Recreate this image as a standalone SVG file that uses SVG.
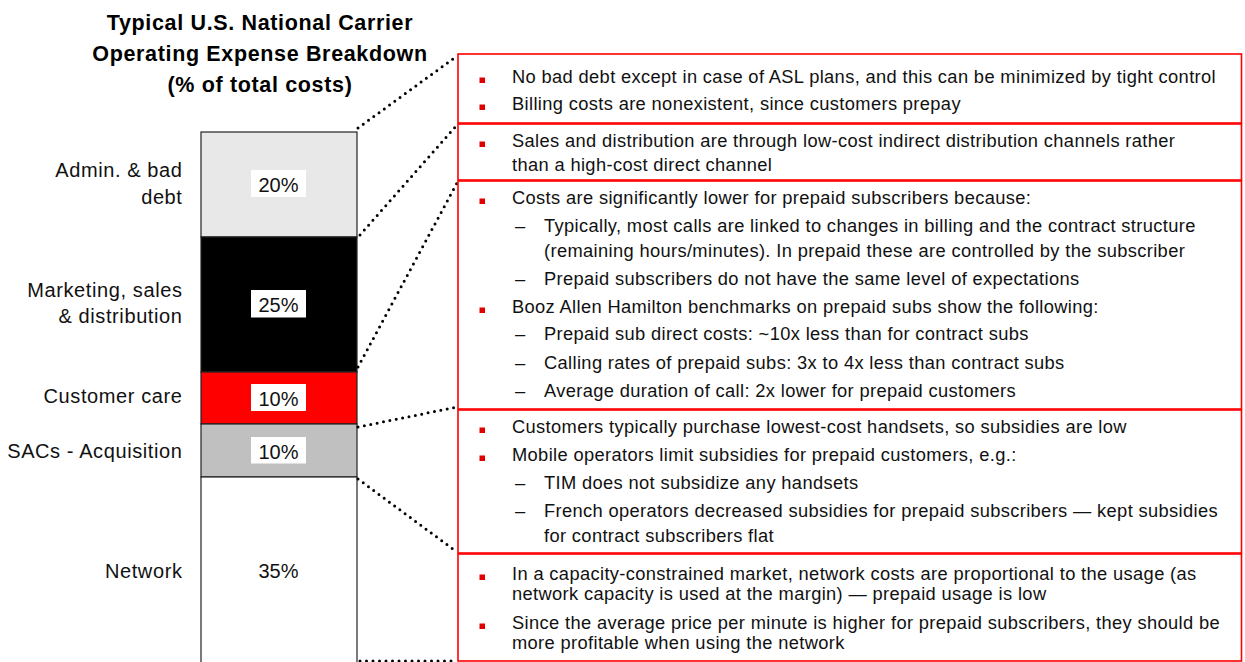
<svg xmlns="http://www.w3.org/2000/svg" width="1245" height="662" viewBox="0 0 1245 662">
  <style>
    .title { font-family: "Liberation Sans", Arial, sans-serif; font-weight: bold; font-size: 21.5px; letter-spacing: 0.65px; fill: #000; text-anchor: middle; }
    .cat { font-family: "Liberation Sans", Arial, sans-serif; font-size: 20px; letter-spacing: 0.6px; fill: #111; text-anchor: end; }
    .pct { font-family: "Liberation Sans", Arial, sans-serif; font-size: 20px; fill: #111; text-anchor: middle; }
    .body { font-family: "Liberation Sans", Arial, sans-serif; font-size: 18.3px; letter-spacing: 0.36px; fill: #111; }
    .seg { stroke: #222; stroke-width: 1.2; }
    .tag { fill: #fff; }
    .panel { fill: #fff; stroke: #ff0000; stroke-width: 1.6; }
    .bul { fill: #e00000; }
    .dots { fill: none; stroke: #000; stroke-width: 3; stroke-linecap: round; stroke-dasharray: 0 6.5; }
  </style>

  <!-- chart title -->
  <g id="title">
    <text class="title" x="260" y="30">Typical U.S. National Carrier</text>
    <text class="title" x="260" y="61">Operating Expense Breakdown</text>
    <text class="title" x="260" y="92">(% of total costs)</text>
  </g>

  <!-- stacked bar segments -->
  <g id="seg-admin">
    <rect class="seg" x="201" y="132" width="156" height="105" fill="#e8e8e8"/>
    <rect class="tag" x="251" y="170" width="55" height="27"/>
    <text class="pct" x="278.5" y="192">20%</text>
    <text class="cat" x="182.5" y="177">Admin. &amp; bad</text>
    <text class="cat" x="182.5" y="204">debt</text>
  </g>
  <g id="seg-marketing">
    <rect class="seg" x="201" y="237" width="156" height="135" fill="#000"/>
    <rect class="tag" x="251" y="290" width="55" height="27.5"/>
    <text class="pct" x="278.5" y="312">25%</text>
    <text class="cat" x="182.5" y="297">Marketing, sales</text>
    <text class="cat" x="182.5" y="323">&amp; distribution</text>
  </g>
  <g id="seg-care">
    <rect class="seg" x="201" y="372" width="156" height="52" fill="#ff0000"/>
    <rect class="tag" x="251" y="384" width="55" height="27"/>
    <text class="pct" x="278.5" y="405.5">10%</text>
    <text class="cat" x="182.5" y="403">Customer care</text>
  </g>
  <g id="seg-sacs">
    <rect class="seg" x="201" y="424" width="156" height="53" fill="#c0c0c0"/>
    <rect class="tag" x="251" y="437" width="55" height="26.5"/>
    <text class="pct" x="278.5" y="458.5">10%</text>
    <text class="cat" x="182.5" y="458">SACs - Acquisition</text>
  </g>
  <g id="seg-network">
    <rect class="seg" x="201" y="477" width="156" height="186" fill="#fff"/>
    <text class="pct" x="278.5" y="578">35%</text>
    <text class="cat" x="182.5" y="578">Network</text>
  </g>

  <!-- dotted leaders from the bar to the comment panels -->
  <g id="connectors">
    <line class="dots" x1="358" y1="128" x2="457" y2="56"/>
    <line class="dots" x1="360" y1="235" x2="457" y2="125"/>
    <line class="dots" x1="358" y1="367" x2="457" y2="183"/>
    <line class="dots" x1="358" y1="427" x2="457" y2="407"/>
    <line class="dots" x1="358" y1="479" x2="457" y2="552"/>
    <line class="dots" x1="360" y1="661" x2="457" y2="661"/>
  </g>

  <!-- comment panels -->
  <g id="panel-admin">
    <rect class="panel" x="458" y="54" width="783.5" height="69"/>
    <rect class="bul" x="479.5" y="77.5" width="5.5" height="5.5"/>
    <text class="body" x="512" y="83">No bad debt except in case of ASL plans, and this can be minimized by tight control</text>
    <rect class="bul" x="479.5" y="104.5" width="5.5" height="5.5"/>
    <text class="body" x="512" y="110">Billing costs are nonexistent, since customers prepay</text>
  </g>
  <g id="panel-marketing">
    <rect class="panel" x="458" y="124" width="783.5" height="56"/>
    <rect class="bul" x="479.5" y="141.5" width="5.5" height="5.5"/>
    <text class="body" x="512" y="147">Sales and distribution are through low-cost indirect distribution channels rather</text>
    <text class="body" x="512" y="171">than a high-cost direct channel</text>
  </g>
  <g id="panel-care">
    <rect class="panel" x="458" y="181" width="783.5" height="228"/>
    <rect class="bul" x="479.5" y="198.5" width="5.5" height="5.5"/>
    <text class="body" x="512" y="204">Costs are significantly lower for prepaid subscribers because:</text>
    <text class="body" x="515" y="232">–</text>
    <text class="body" x="544" y="232">Typically, most calls are linked to changes in billing and the contract structure</text>
    <text class="body" x="544" y="257">(remaining hours/minutes). In prepaid these are controlled by the subscriber</text>
    <text class="body" x="515" y="285">–</text>
    <text class="body" x="544" y="285">Prepaid subscribers do not have the same level of expectations</text>
    <rect class="bul" x="479.5" y="307.5" width="5.5" height="5.5"/>
    <text class="body" x="512" y="313">Booz Allen Hamilton benchmarks on prepaid subs show the following:</text>
    <text class="body" x="515" y="340">–</text>
    <text class="body" x="544" y="340">Prepaid sub direct costs: ~10x less than for contract subs</text>
    <text class="body" x="515" y="369">–</text>
    <text class="body" x="544" y="369">Calling rates of prepaid subs: 3x to 4x less than contract subs</text>
    <text class="body" x="515" y="397">–</text>
    <text class="body" x="544" y="397">Average duration of call: 2x lower for prepaid customers</text>
  </g>
  <g id="panel-sacs">
    <rect class="panel" x="458" y="410" width="783.5" height="143"/>
    <rect class="bul" x="479.5" y="427.5" width="5.5" height="5.5"/>
    <text class="body" x="512" y="433">Customers typically purchase lowest-cost handsets, so subsidies are low</text>
    <rect class="bul" x="479.5" y="455.5" width="5.5" height="5.5"/>
    <text class="body" x="512" y="461">Mobile operators limit subsidies for prepaid customers, e.g.:</text>
    <text class="body" x="515" y="489">–</text>
    <text class="body" x="544" y="489">TIM does not subsidize any handsets</text>
    <text class="body" x="515" y="517">–</text>
    <text class="body" x="544" y="517">French operators decreased subsidies for prepaid subscribers — kept subsidies</text>
    <text class="body" x="544" y="542">for contract subscribers flat</text>
  </g>
  <g id="panel-network">
    <rect class="panel" x="458" y="554" width="783.5" height="107"/>
    <rect class="bul" x="479.5" y="574.5" width="5.5" height="5.5"/>
    <text class="body" x="512" y="580">In a capacity-constrained market, network costs are proportional to the usage (as</text>
    <text class="body" x="512" y="600">network capacity is used at the margin) — prepaid usage is low</text>
    <rect class="bul" x="479.5" y="623.5" width="5.5" height="5.5"/>
    <text class="body" x="512" y="629">Since the average price per minute is higher for prepaid subscribers, they should be</text>
    <text class="body" x="512" y="649">more profitable when using the network</text>
  </g>
</svg>
